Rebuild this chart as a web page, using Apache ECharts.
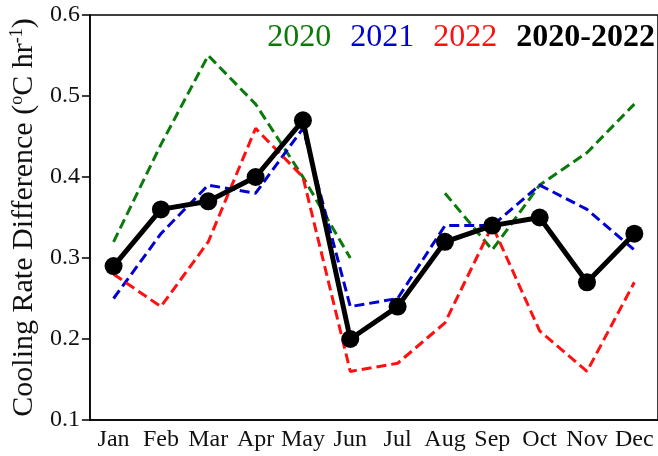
<!DOCTYPE html>
<html>
<head>
<meta charset="utf-8">
<script src="https://cdn.jsdelivr.net/npm/echarts@6/dist/echarts.min.js"></script>
<style>
html,body{margin:0;padding:0;background:#fff;}
#chart{width:658px;height:456px;}
</style>
</head>
<body>
<div id="chart"></div>
<script>
var months = ['Jan','Feb','Mar','Apr','May','Jun','Jul','Aug','Sep','Oct','Nov','Dec'];
var y2020 = [0.32,0.44,0.55,0.49,0.40,0.30,null,0.38,0.31,0.39,0.43,0.49];
var y2021 = [0.25,0.33,0.39,0.38,0.46,0.24,0.25,0.34,0.34,0.39,0.36,0.31];
var y2022 = [0.28,0.24,0.32,0.46,0.40,0.16,0.17,0.22,0.34,0.21,0.16,0.27];
var yAll = [0.29,0.36,0.37,0.40,0.47,0.20,0.24,0.32,0.34,0.35,0.27,0.33];

var serif = '"Liberation Serif","Times New Roman",serif';
var green = '#0a7a0a', blue = '#0000d0', red = '#ff1010';

function dashed(name, data, color){
	return {
		name: name,
		type: 'line',
		data: data,
		symbol: 'none',
		connectNulls: false,
		lineStyle: {color: color, width: 3, type: [10,5]},
		itemStyle: {color: color},
		z: 2
	};
}

var chart = echarts.init(document.getElementById('chart'));
var option = {
	animation: false,
	grid: {left: 88, right: -1, top: 15, bottom: 36, show: true, borderColor: '#000', borderWidth: 1.5},
	legend: {
		right: -2, top: 17,
		selectedMode: false,
		icon: 'rect', itemWidth: 0, itemHeight: 0, itemGap: 14,
		textStyle: {fontFamily: serif, fontSize: 32},
		data: [
			{name: '2020', textStyle: {color: green}},
			{name: '2021', textStyle: {color: blue}},
			{name: '2022', textStyle: {color: red}},
			{name: '2020-2022', textStyle: {color: '#000', fontWeight: 'bold'}}
		]
	},
	xAxis: {
		type: 'category',
		data: months,
		boundaryGap: true,
		axisLine: {lineStyle: {color: '#000', width: 1.5}},
		axisTick: {alignWithLabel: true, length: 8, lineStyle: {color: '#000', width: 1.5}},
		axisLabel: {fontFamily: serif, fontSize: 24, color: '#111', margin: 8, interval: 0},
		splitLine: {show: false}
	},
	yAxis: {
		type: 'value',
		min: 0.1, max: 0.6, interval: 0.1,
		name: '{a|Cooling Rate Difference (}{s|o}{a|C hr}{s|-1}{a|)}',
		nameLocation: 'middle',
		nameGap: 44,
		nameTextStyle: {
			rich: {
				a: {fontFamily: serif, fontSize: 30, lineHeight: 32, color: '#111'},
				s: {fontFamily: serif, fontSize: 18, lineHeight: 18, verticalAlign: 'top', color: '#111'}
			}
		},
		axisLine: {show: true, lineStyle: {color: '#000', width: 1.5}},
		axisTick: {show: true, length: 8, lineStyle: {color: '#000', width: 1.5}},
		axisLabel: {fontFamily: serif, fontSize: 24, color: '#111', margin: 10,
			formatter: function(v){ return v.toFixed(1); }},
		splitLine: {show: false}
	},
	series: [
		dashed('2020', y2020, green),
		dashed('2021', y2021, blue),
		dashed('2022', y2022, red),
		{
			name: '2020-2022',
			type: 'line',
			data: yAll,
			symbol: 'circle',
			symbolSize: 18,
			lineStyle: {color: '#000', width: 5},
			itemStyle: {color: '#000'},
			z: 5
		}
	]
};
chart.setOption(option);
</script>
</body>
</html>
